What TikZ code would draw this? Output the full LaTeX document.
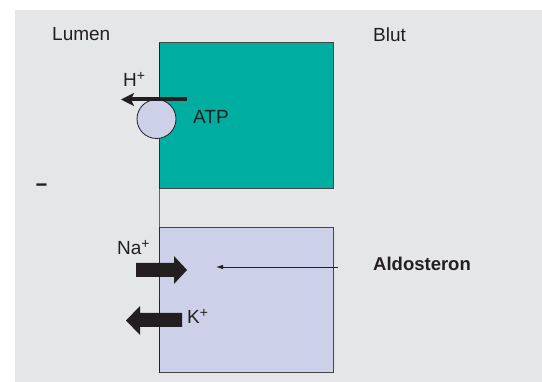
\documentclass[tikz,border=0pt]{standalone}
\usepackage{fontspec}
\setmainfont{Liberation Sans}
\usetikzlibrary{arrows.meta}
\definecolor{bg}{RGB}{229,230,232}
\definecolor{tealbox}{RGB}{0,174,161}
\definecolor{lav}{RGB}{204,209,233}
\definecolor{ink}{RGB}{35,31,32}
\definecolor{edge}{RGB}{70,70,72}
\newcommand{\ionplus}{\raisebox{0.33em}{\fontsize{14}{14}\selectfont +}}
\begin{document}
\begin{tikzpicture}[x=1pt,y=-1pt,
  font=\fontsize{19}{21}\selectfont, text=ink,
  cellbox/.style={draw=edge, line width=1pt, minimum width=174pt, inner sep=0pt, outer sep=0pt, anchor=north west},
  lbl/.style={inner sep=0pt, anchor=base west},
  blockarrow/.style={fill=ink}]
\useasboundingbox (0,0) rectangle (542,382);
\fill[bg] (15,10) rectangle (542,382);
% cells
\node (upper) [cellbox, fill=tealbox, minimum height=146pt] at (159,43) {};
\node (lower) [cellbox, fill=lav, minimum height=145pt] at (159,228) {};
\draw[ink, line width=1pt] (upper.north west) -- (upper.south west) -- (lower.north west) -- (lower.south west);
% pump
\node (pump) [circle, draw=ink, line width=0.8pt, fill=lav, minimum size=39pt, inner sep=0pt] at (156.5,119) {};
\coordinate (hstart) at (187,99.5);
\coordinate (hend) at (121,99.5);
\draw[ink, line width=4pt, -{Stealth[length=13pt,width=13pt,inset=3pt]}] (hstart) -- (hend);
% labels
\node (lumen) [lbl] at (52,41) {Lumen};
\node (blut) [lbl] at (373,41.5) {Blut};
\node (hion) [lbl] at (123,87) {H\ionplus};
\node (atp) [lbl] at (193,123.5) {ATP};
\node (minus) [inner sep=0pt, anchor=base] at (41.5,192) {\fontsize{24}{24}\selectfont\bfseries\scalebox{0.85}[1]{–}};
\node (naion) [lbl] at (117,255) {Na\ionplus};
\node (kion) [lbl] at (187,324) {K\ionplus};
\node (aldo) [lbl, font=\fontsize{18.5}{20}\selectfont\bfseries] at (373,271) {Aldosteron};
% block arrows
\fill[blockarrow] (136,263) -- (174,263) -- (174,256) -- (187,270) -- (174,284) -- (174,277) -- (136,277) -- cycle;
\fill[blockarrow] (182,313) -- (140,313) -- (140,306) -- (126,320.5) -- (140,335) -- (140,327) -- (182,327) -- cycle;
% aldosterone arrow
\coordinate (astart) at (338,267);
\coordinate (aend) at (216,267);
\draw[ink, line width=0.8pt, -{Latex[length=7pt,width=4.5pt]}] (astart) -- (aend);
\end{tikzpicture}
\end{document}
